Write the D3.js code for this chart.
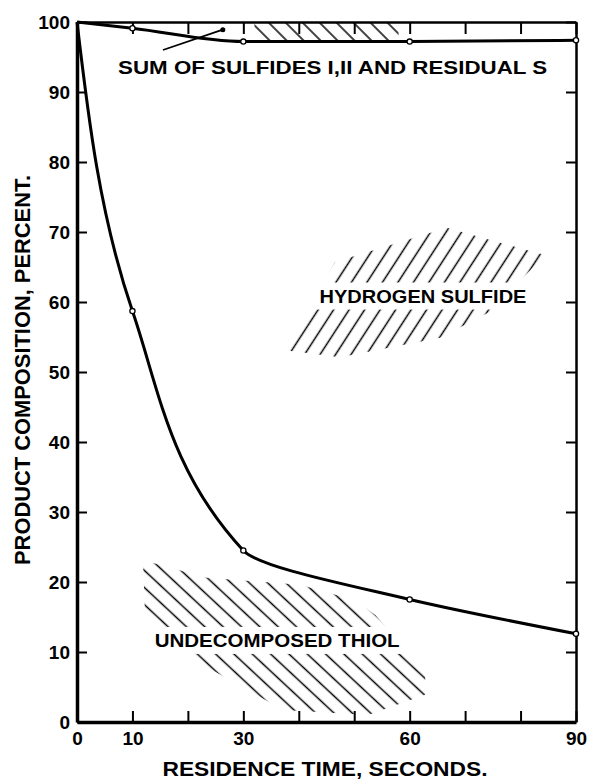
<!DOCTYPE html>
<html>
<head>
<script src="https://cdnjs.cloudflare.com/ajax/libs/d3/7.8.5/d3.min.js"></script>
<style>
  body { margin: 0; background: #fff; }
  svg { display: block; font-family: "Liberation Sans", Arial, sans-serif; font-weight: bold; }
  .axis text { font-size: 19px; fill: #000; font-family: "Liberation Sans", Arial, sans-serif; font-weight: bold; }
  .axis line { stroke: #000; stroke-width: 2; }
  .axis path { stroke: #000; }
  .curve { fill: none; stroke: #000; stroke-width: 3; stroke-linejoin: round; }
  .pt { fill: #fff; stroke: #000; stroke-width: 1.3; }
  .lbl { font-size: 19px; fill: #000; }
</style>
</head>
<body>
<svg width="592" height="782"></svg>
<script>
// residence time (s) and product composition (%)
var times = [0, 10, 30, 60, 90];
var sulfideSum = [100, 99.1, 97.2, 97.2, 97.4];
var thiol = [100, 58.7, 24.5, 17.5, 12.6];

var xTicks = [0, 10, 20, 30, 40, 50, 60, 70, 80, 90];
var xTickLabels = [0, 10, 30, 60, 90];
var yTicks = [0, 10, 20, 30, 40, 50, 60, 70, 80, 90, 100];

// hatched areas, in data units [time, percent]
var h2sHatch = [[37.5, 53.1], [46.5, 65.7], [66.7, 70.6], [84.4, 66.7], [74.5, 58.6], [65.5, 54.9], [47.4, 52.1]];
var thiolHatch = [[11.9, 23.1], [23.4, 20.6], [40.2, 19.6], [50.1, 17.4], [53.8, 15.3], [62.8, 7.1],
                  [62.8, 3.9], [52.5, 1.0], [37.2, 1.7], [18.6, 10.0], [12.3, 14.6]];
var topHatch = [[32, 100], [58, 100], [58, 97.3], [32, 97.3]];
var leader = [[15.5, 96], [26.3, 98.9]];

var svg = d3.select("svg");
var x = d3.scaleLinear().domain([0, 90]).range([77, 576]);
var y = d3.scaleLinear().domain([0, 100]).range([722, 22]);

var defs = svg.append("defs");
function hatch(id, gap, angle) {
  defs.append("pattern")
    .attr("id", id)
    .attr("patternUnits", "userSpaceOnUse")
    .attr("width", gap).attr("height", gap)
    .attr("patternTransform", "rotate(" + angle + ")")
    .append("line")
    .attr("x1", gap / 2).attr("x2", gap / 2)
    .attr("y1", 0).attr("y2", gap)
    .attr("stroke", "#000").attr("stroke-width", 1.5);
}
hatch("fwd", 13, 33);
hatch("back", 12.5, -47);
hatch("backTop", 12, -45);

var poly = d3.line().x(d => x(d[0])).y(d => y(d[1]));
svg.append("path").attr("d", poly(h2sHatch) + "Z").attr("fill", "url(#fwd)");
svg.append("path").attr("d", poly(thiolHatch) + "Z").attr("fill", "url(#back)");
svg.append("path").attr("d", poly(topHatch) + "Z").attr("fill", "url(#backTop)");

// labels with white knock-out behind
function label(txt, cx, cy, len) {
  var g = svg.append("g");
  var t = g.append("text").attr("class", "lbl")
    .attr("x", x(cx)).attr("y", y(cy)).attr("dy", "0.36em")
    .attr("text-anchor", "middle")
    .attr("textLength", len).attr("lengthAdjust", "spacingAndGlyphs")
    .text(txt);
  var b = t.node().getBBox();
  g.insert("rect", "text").attr("x", b.x - 6).attr("y", b.y - 3)
    .attr("width", b.width + 12).attr("height", b.height + 6).attr("fill", "#fff");
}
label("HYDROGEN SULFIDE", 62.4, 60.9, 207);
label("UNDECOMPOSED THIOL", 36.1, 11.7, 245);

svg.append("text").attr("class", "lbl")
  .attr("x", x(46.1)).attr("y", y(93.6)).attr("dy", "0.36em")
  .attr("text-anchor", "middle")
  .attr("textLength", 429).attr("lengthAdjust", "spacingAndGlyphs")
  .text("SUM OF SULFIDES I,II AND RESIDUAL  S");

svg.append("path").attr("d", poly(leader)).attr("stroke", "#000").attr("stroke-width", 1.8).attr("fill", "none");
svg.append("circle").attr("cx", x(leader[1][0])).attr("cy", y(leader[1][1])).attr("r", 2.5).attr("fill", "#000");

// axes, ticks pointing inward
var fmtX = d => xTickLabels.indexOf(d) > -1 ? d : "";
svg.append("g").attr("class", "axis").attr("transform", "translate(0,722)")
  .call(d3.axisBottom(x).tickValues(xTicks).tickSize(-11).tickSizeOuter(0).tickPadding(10).tickFormat(fmtX))
  .call(g => g.select(".domain").attr("stroke-width", 3.5));
svg.append("g").attr("class", "axis").attr("transform", "translate(0,22)")
  .call(d3.axisTop(x).tickValues(xTicks).tickSize(-12).tickSizeOuter(0).tickFormat(""))
  .call(g => g.select(".domain").attr("stroke-width", 2.5));
svg.append("g").attr("class", "axis").attr("transform", "translate(77,0)")
  .call(d3.axisLeft(y).tickValues(yTicks).tickSize(-10).tickSizeOuter(0).tickPadding(7))
  .call(g => g.select(".domain").attr("stroke-width", 3.5));
svg.append("g").attr("class", "axis").attr("transform", "translate(576,0)")
  .call(d3.axisRight(y).tickValues(yTicks).tickSize(-10).tickSizeOuter(0).tickFormat(""))
  .call(g => g.select(".domain").attr("stroke-width", 2.5));

svg.append("text").attr("class", "lbl")
  .attr("x", 325).attr("y", 768).attr("dy", "0.36em").attr("text-anchor", "middle")
  .style("font-size", "21px")
  .attr("textLength", 325).attr("lengthAdjust", "spacingAndGlyphs")
  .text("RESIDENCE TIME, SECONDS.");
svg.append("text").attr("class", "lbl")
  .attr("transform", "translate(22,370) rotate(-90)").attr("dy", "0.36em").attr("text-anchor", "middle")
  .style("font-size", "22px")
  .attr("textLength", 390).attr("lengthAdjust", "spacingAndGlyphs")
  .text("PRODUCT COMPOSITION, PERCENT.");

// curves
var sumData = times.map((t, i) => [t, sulfideSum[i]]);
var thiolData = times.map((t, i) => [t, thiol[i]]);
svg.append("path").attr("class", "curve")
  .attr("d", d3.line().x(d => x(d[0])).y(d => y(d[1])).curve(d3.curveMonotoneX)(sumData));
svg.append("path").attr("class", "curve")
  .attr("d", d3.line().x(d => x(d[0])).y(d => y(d[1])).curve(d3.curveMonotoneY)(thiolData));

svg.selectAll("circle.pt")
  .data(sumData.slice(1).concat(thiolData.slice(1)))
  .enter().append("circle").attr("class", "pt")
  .attr("cx", d => x(d[0])).attr("cy", d => y(d[1])).attr("r", 2.6);
</script>
</body>
</html>
